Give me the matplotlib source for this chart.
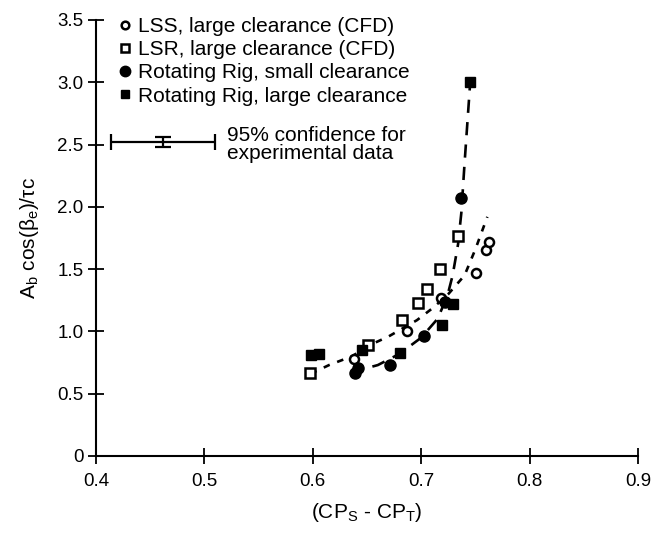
import matplotlib
matplotlib.use("Agg")
import matplotlib.pyplot as plt
from matplotlib.lines import Line2D

plt.rcParams['font.family'] = ['Liberation Sans', 'DejaVu Sans']
plt.rcParams['mathtext.fontset'] = 'custom'
plt.rcParams['mathtext.rm'] = 'Liberation Sans'

# LSS, large clearance (CFD) - open circles
lss_x = [0.638, 0.687, 0.718, 0.751, 0.760, 0.763]
lss_y = [0.78, 1.00, 1.27, 1.47, 1.65, 1.72]
# LSR, large clearance (CFD) - open squares
lsr_x = [0.597, 0.651, 0.682, 0.697, 0.705, 0.717, 0.734]
lsr_y = [0.67, 0.89, 1.09, 1.23, 1.34, 1.50, 1.77]
# Rotating Rig, small clearance - filled circles
rrs_x = [0.639, 0.642, 0.671, 0.703, 0.722, 0.737]
rrs_y = [0.67, 0.71, 0.73, 0.96, 1.24, 2.07]
# Rotating Rig, large clearance - filled squares
rrl_x = [0.598, 0.606, 0.645, 0.680, 0.719, 0.729, 0.745]
rrl_y = [0.81, 0.82, 0.85, 0.83, 1.05, 1.22, 3.00]

# fitted curves
exp_fit_x = [0.635, 0.660, 0.680, 0.700, 0.715, 0.724, 0.729, 0.734, 0.737,
             0.740, 0.742, 0.744, 0.746]
exp_fit_y = [0.67, 0.73, 0.82, 0.95, 1.10, 1.28, 1.45, 1.70, 1.95,
             2.35, 2.60, 2.85, 3.10]
cfd_fit_x = [0.598, 0.615, 0.636, 0.655, 0.670, 0.696, 0.711, 0.725, 0.740,
             0.750, 0.761]
cfd_fit_y = [0.66, 0.73, 0.80, 0.90, 0.96, 1.09, 1.19, 1.30, 1.45,
             1.66, 1.92]

# confidence bar
ci_x, ci_y = 0.462, 2.52
ci_xerr, ci_yerr = 0.048, 0.04

xticks = [0.4, 0.5, 0.6, 0.7, 0.8, 0.9]
yticks = [0, 0.5, 1.0, 1.5, 2.0, 2.5, 3.0, 3.5]
yticklabels = ['0', '0.5', '1.0', '1.5', '2.0', '2.5', '3.0', '3.5']

W, H = 671, 536
fig = plt.figure(figsize=(W / 100, H / 100), dpi=100)
ax = fig.add_axes([96 / W, 1 - 456 / H, (638 - 96) / W, (456 - 20) / H])

ax.plot(exp_fit_x, exp_fit_y, color='black', lw=1.9, dashes=(5, 3.5))
ax.plot(cfd_fit_x, cfd_fit_y, color='black', lw=1.9, dashes=(2.5, 3))

ax.plot(lss_x, lss_y, 'o', mfc='white', mec='black', mew=1.8, ms=6.5, ls='none')
ax.plot(lsr_x, lsr_y, 's', mfc='white', mec='black', mew=1.8, ms=6.5, ls='none')
ax.plot(rrs_x, rrs_y, 'o', color='black', ms=8, ls='none')
ax.plot(rrl_x, rrl_y, 's', color='black', ms=7, ls='none')

ax.errorbar([ci_x], [ci_y], xerr=[ci_xerr], yerr=[ci_yerr], color='black',
            lw=1.6, capsize=6, capthick=1.6, fmt='none')
ax.text(0.521, 2.50, '95% confidence for\nexperimental data', fontsize=15,
        va='center', ha='left', linespacing=0.95)

handles = [
    Line2D([], [], marker='o', mfc='white', mec='black', mew=1.8, ms=5.5, ls='none'),
    Line2D([], [], marker='s', mfc='white', mec='black', mew=1.8, ms=5.5, ls='none'),
    Line2D([], [], marker='o', color='black', ms=7.5, ls='none'),
    Line2D([], [], marker='s', color='black', ms=6, ls='none'),
]
labels = ['LSS, large clearance (CFD)', 'LSR, large clearance (CFD)',
          'Rotating Rig, small clearance', 'Rotating Rig, large clearance']
fig.legend(handles, labels, loc='upper left', bbox_to_anchor=(119 / W, 1 - 17 / H),
           frameon=False, fontsize=15, handlelength=0.6, handletextpad=0.33,
           labelspacing=0.2, borderaxespad=0, borderpad=0)

ax.set_xlim(0.4, 0.9)
ax.set_ylim(0, 3.5)
ax.set_xticks(xticks)
ax.set_xticklabels([f'{v:.1f}' for v in xticks])
ax.set_yticks(yticks)
ax.set_yticklabels(yticklabels)
ax.tick_params(direction='inout', length=11, width=1.3, labelsize=13.5)
ax.tick_params(axis='x', pad=7)
for s in ['top', 'right']:
    ax.spines[s].set_visible(False)
for s in ['left', 'bottom']:
    ax.spines[s].set_linewidth(1.5)

ax.set_xlabel(r'(CP$_\mathregular{S}$ - CP$_\mathregular{T}$)', fontsize=15, labelpad=8)
ax.set_ylabel(r'A$_\mathregular{b}$ cos(β$_\mathregular{e}$)/τc', fontsize=15, labelpad=12)

fig.savefig('out.png', dpi=100)
